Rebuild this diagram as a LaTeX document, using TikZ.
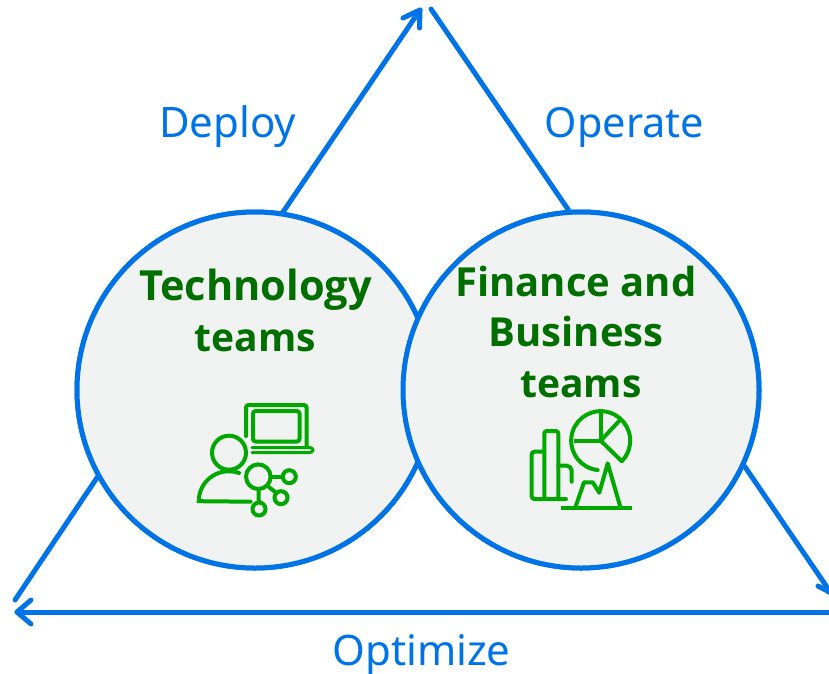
\documentclass[tikz,border=0pt]{standalone}
\usepackage{fontspec}
\setmainfont{Noto Sans}
\newfontfamily\titlefont{Open Sans}
\definecolor{flowblue}{HTML}{0073E6}
\definecolor{teamfill}{HTML}{F1F3F3}
\definecolor{titlegreen}{HTML}{006F00}
\definecolor{icongreen}{HTML}{00A800}
\tikzset{
  flow/.style={draw=flowblue,line width=5pt,line cap=round,line join=round},
  tip/.style={flow},
  team/.style={circle,draw=flowblue,fill=teamfill,line width=5pt,minimum size=356pt,inner sep=0pt},
  phase/.style={text=flowblue,font=\fontsize{42}{48}\selectfont,anchor=base,inner sep=0pt},
  title/.style={text=titlegreen,font=\titlefont\fontsize{40}{48}\selectfont\bfseries,anchor=base,inner sep=0pt},
  titlewide/.style={title,font=\titlefont\fontsize{41.5}{48}\selectfont\bfseries},
  titlenarrow/.style={title,font=\titlefont\fontsize{39}{48}\selectfont\bfseries},
  icon/.style={draw=icongreen,line width=4pt,line cap=round,line join=round,rounded corners=2.5pt},
  iconsharp/.style={draw=icongreen,line width=4pt,line cap=butt,line join=miter}
}
\begin{document}
\begin{tikzpicture}[x=1pt,y=-1pt]
\useasboundingbox (0,0) rectangle (829,673);
\clip (0,0) rectangle (829,673);
\coordinate (apexL) at (420,10);
\coordinate (apexR) at (431,9);
\coordinate (rightEnd) at (831,593);
\coordinate (leftEnd) at (15,600);
\coordinate (baseR) at (835,612);
\coordinate (baseL) at (17,612);
\node[team] (tech) at (255,390) {};
\node[team] (fin) at (581,390) {};
% connectors
\draw[flow] (tech.81) -- (apexL);
\draw[flow] (apexR) -- (fin.94);
\draw[flow] (fin.-25) -- (rightEnd);
\draw[flow] (tech.209) -- (leftEnd);
\draw[flow] (baseR) -- (baseL);
% arrow heads
\draw[tip] (403,18) -- (apexL) -- (419.5,28);
\draw[tip] (818,586) -- (rightEnd) -- (834,580);
\draw[tip] (31,600) -- (baseL) -- (31,624);
% circles redrawn on top of the lines
\node[team] at (255,390) {};
\node[team] at (581,390) {};
% labels
\node[phase] (deploy) at (227.5,137) {Deploy};
\node[phase,font=\fontsize{41.5}{48}\selectfont] (operate) at (624.5,137) {Operate};
\node[phase] (optimize) at (421.5,665) {Optimize};
\node[titlewide] (t1) at (255.5,300.5) {Technology};
\node[titlenarrow] (t2) at (255.5,351) {teams};
\node[title] (f1) at (576,296) {Finance and};
\node[title] (f2) at (576,346) {Business};
\node[titlenarrow] (f3) at (581,397) {teams};
% technology icon
\draw[icon] (246,436) -- (246,405) -- (306.5,405) -- (306.5,446);
\draw[icon] (253,411) rectangle (299.5,441.5);
\draw[icon,line width=3pt,rounded corners=3pt] (252,447.5) -- (313,447.5) -- (313,452.5) -- (252,452.5);
\draw[iconsharp] (229,452.7) circle (17);
\draw[iconsharp,line cap=round] (239,473) arc (-70:-180:30) -- (250.5,501.7);
\draw[iconsharp] (258.3,476.7) circle (12.3);
\draw[iconsharp] (289.3,476.7) circle (6.5);
\draw[iconsharp] (281,497.7) circle (6.5);
\draw[iconsharp] (259,509) circle (6.5);
\draw[iconsharp] (270.6,476.7) -- (282.8,476.7);
\draw[iconsharp] (267,485.5) -- (276.5,493);
\draw[iconsharp] (258.5,489) -- (258.8,502.5);
% finance icon
\draw[iconsharp,line cap=round] (597.6,470) arc (96:404:29.5);
\draw[iconsharp,line join=round] (600.7,411) -- (600.7,440.7) -- (574,440.7);
\draw[iconsharp,line cap=round] (600.7,440.7) -- (620,420);
\draw[iconsharp,line cap=round] (600.7,440.7) -- (621.5,461);
\draw[icon] (544.3,499) -- (544.3,431) -- (558.3,431) -- (558.3,499);
\draw[icon] (544.3,451.7) -- (531.7,451.7) -- (531.7,499) -- (566,499);
\draw[icon,rounded corners=5pt] (558.3,465.7) -- (571.7,465.7) -- (571.7,481.7);
\draw[iconsharp] (561,508.3) -- (631.7,508.3);
\draw[iconsharp,line join=round] (575,508.3) -- (584,482.3) -- (592.7,482.3) -- (599.3,492.7) -- (607.7,463.3) -- (620.7,508.3);
\end{tikzpicture}
\end{document}
